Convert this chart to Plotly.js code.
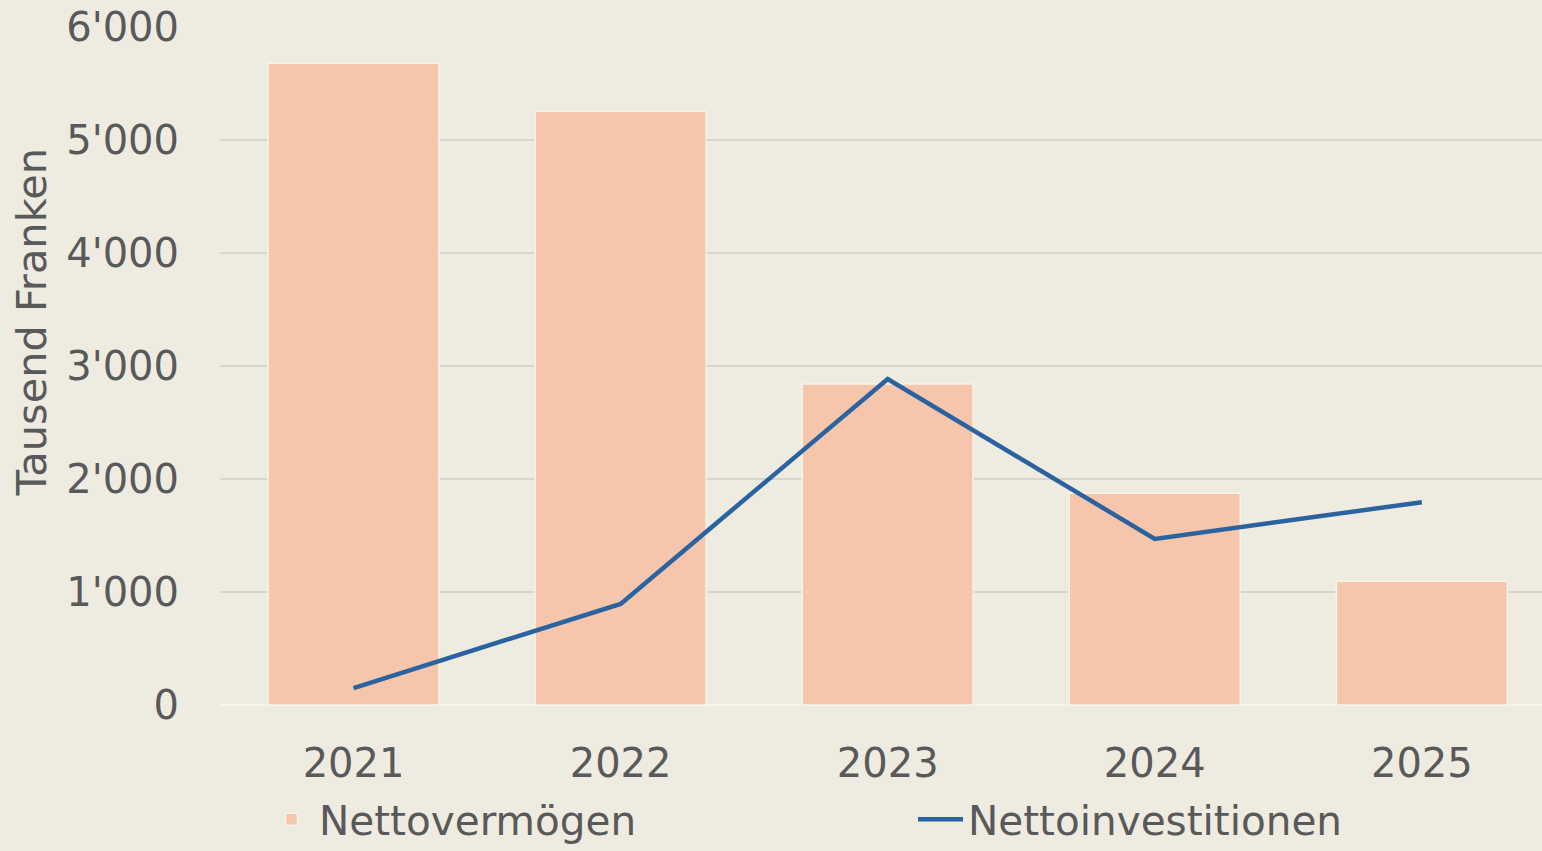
<!DOCTYPE html>
<html>
<head>
<meta charset="utf-8">
<script src="https://cdn.plot.ly/plotly-3.0.1.min.js"></script>
<style>
html,body{margin:0;padding:0;background:#EEEBE1;}
#chart{width:1542px;height:851px;}
</style>
</head>
<body>
<div id="chart"></div>
<script>
const years = ['2021', '2022', '2023', '2024', '2025'];
const nettovermoegen = [5680, 5255, 2840, 1875, 1095];
const nettoinvestitionen = [150, 895, 2885, 1470, 1795];
const yTicks = [0, 1000, 2000, 3000, 4000, 5000, 6000];

const font = {family: 'DejaVu Sans, Verdana, sans-serif', color: '#595959'};

const traces = [
  {
    type: 'bar',
    name: 'Nettovermögen',
    x: years,
    y: nettovermoegen,
    width: 0.64,
    marker: {color: '#F5C6AC', line: {color: '#F7F3EA', width: 1.5}},
    hoverinfo: 'x+y'
  },
  {
    type: 'scatter',
    mode: 'lines',
    name: 'Nettoinvestitionen',
    x: years,
    y: nettoinvestitionen,
    line: {color: '#2A63A0', width: 4.5},
    hoverinfo: 'x+y'
  }
];

const layout = {
  width: 1542,
  height: 851,
  paper_bgcolor: '#EEEBE1',
  plot_bgcolor: '#EEEBE1',
  separators: ".'",
  margin: {l: 220, r: 0, t: 27, b: 146, pad: 0, autoexpand: false},
  font: Object.assign({size: 40}, font),
  bargap: 0.36,
  xaxis: {
    type: 'category',
    range: [-0.5, 4.45],
    showgrid: false,
    zeroline: false,
    showline: false,
    ticks: '',
    ticklabelstandoff: 31,
    tickfont: Object.assign({size: 40}, font),
    fixedrange: true
  },
  yaxis: {
    range: [0, 6000],
    tickvals: yTicks,
    tickformat: ',d',
    showgrid: true,
    gridcolor: '#D8D5CD',
    gridwidth: 1.5,
    zeroline: true,
    zerolinecolor: '#F7F4EC',
    zerolinewidth: 2,
    showline: false,
    ticks: '',
    ticklabelstandoff: 40,
    tickfont: Object.assign({size: 40}, font),
    fixedrange: true
  },
  showlegend: true,
  legend: {
    orientation: 'h',
    x: 0.0333,
    xanchor: 'left',
    y: -0.12,
    yanchor: 'top',
    bgcolor: 'rgba(0,0,0,0)',
    font: Object.assign({size: 40.5}, font),
    entrywidth: 589,
    entrywidthmode: 'pixels',
    itemwidth: 45,
    traceorder: 'normal'
  },
  annotations: [
    {
      text: 'Tausend Franken',
      xref: 'paper', yref: 'paper',
      x: -0.142, y: 0.565,
      xanchor: 'center', yanchor: 'middle',
      textangle: -90,
      showarrow: false,
      font: Object.assign({size: 41.5}, font)
    }
  ]
};

Plotly.newPlot('chart', traces, layout, {displayModeBar: false, staticPlot: true});
</script>
</body>
</html>
